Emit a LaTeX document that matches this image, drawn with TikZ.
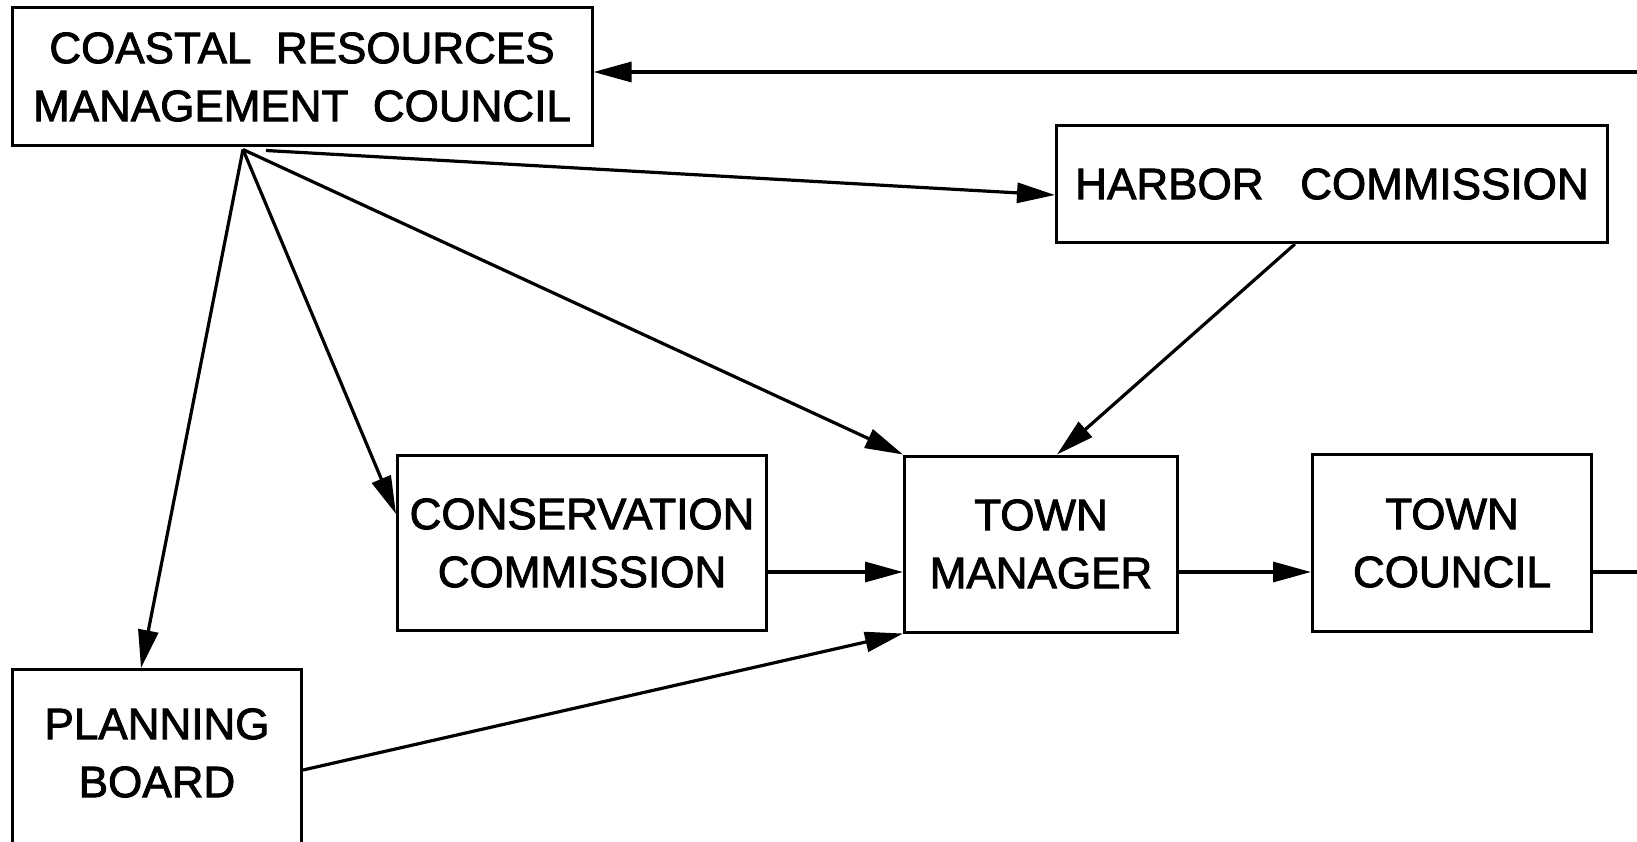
\documentclass[tikz,border=0pt]{standalone}
\usepackage{fontspec}
\newfontfamily\lett{Liberation Sans}[FakeBold=2]
\usetikzlibrary{arrows.meta,calc}
\begin{document}
\begin{tikzpicture}[x=1pt,y=-1pt,
  box/.style={draw, line width=3pt, inner sep=0pt, align=center, font=\lett\fontsize{44}{58}\selectfont},
  lbl/.style={inner sep=0pt, align=center, font=\lett\fontsize{44}{58}\selectfont},
  conn/.style={line width=3.2pt, -{Triangle[length=38pt,width=20pt]}},
  plain/.style={line width=3.2pt}]
\path[use as bounding box] (0,0) rectangle (1637,842);
\clip (0,0) rectangle (1637,842);
\node[box, minimum width=580pt, minimum height=138pt] (crmc) at (302,77) {COASTAL\ \ RESOURCES\\MANAGEMENT\ \ COUNCIL};
\node[box, minimum width=551pt, minimum height=117pt] (hc) at (1332,184) {HARBOR\ \ \ COMMISSION};
\node[box, minimum width=369pt, minimum height=175pt] (cc) at (582,543) {CONSERVATION\\COMMISSION};
\node[box, minimum width=273pt, minimum height=176pt] (tm) at (1041,544) {TOWN\\MANAGER};
\node[box, minimum width=279pt, minimum height=177pt] (tc) at (1452,543) {TOWN\\COUNCIL};
\node[box, minimum width=289pt, minimum height=240pt, anchor=north] (pb) at (157,668) {};
\node[lbl] (pbt) at (157,753) {PLANNING\\BOARD};
\coordinate (rin) at (1637,72);
\coordinate (row) at (0,572);
\coordinate (rout) at (1637,572);
\coordinate (pbo) at (0,770);
\coordinate (s1) at ([xshift=-59pt,yshift=-2pt]crmc.south);
\coordinate (s2) at ([xshift=-36pt,yshift=-3pt]crmc.south);
\draw[conn] (rin) -- (rin -| crmc.east);
\draw[conn] (s1) -- ([xshift=-16pt]pb.north);
\draw[conn] (s1) -- ([yshift=29pt]cc.west);
\draw[conn] (s1) -- (tm.north west);
\draw[conn] (s2) -- ([yshift=-11pt]hc.west);
\draw[conn] ([xshift=-37pt]hc.south) -- ([xshift=16pt]tm.north);
\draw[conn] (cc.east |- row) -- (tm.west |- row);
\draw[conn] (pb.east |- pbo) -- (tm.south west);
\draw[conn] (tm.east |- row) -- (tc.west |- row);
\draw[plain] (tc.east |- rout) -- (rout);
\end{tikzpicture}
\end{document}
